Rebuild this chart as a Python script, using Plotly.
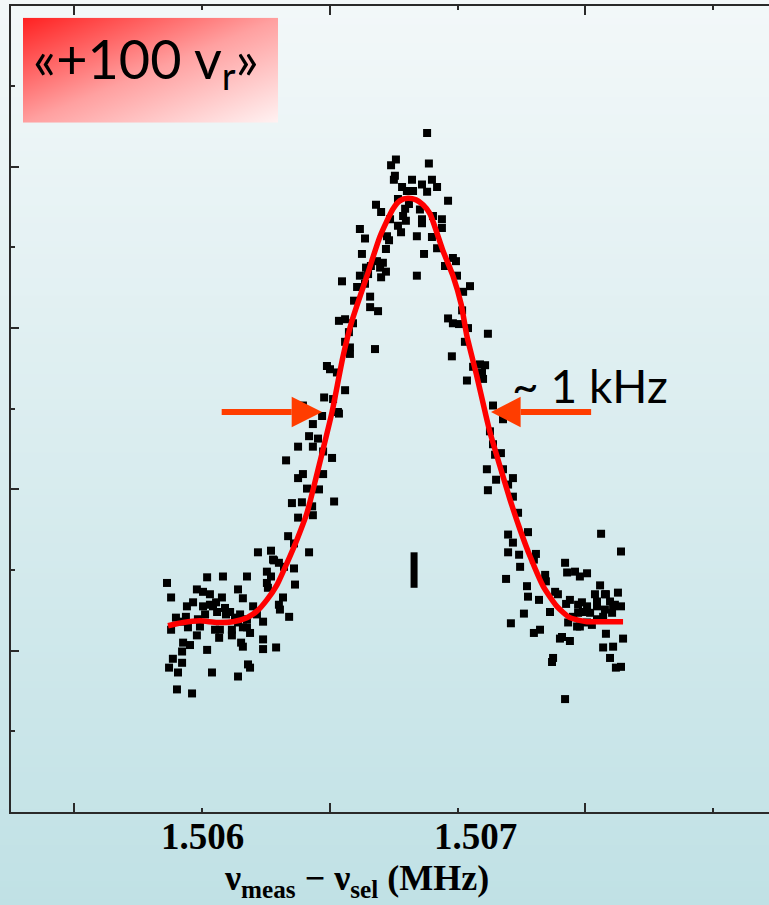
import numpy as np
import plotly.graph_objects as go

# ---------------------------------------------------------------
# Measured resonance: (frequency in Hz, signal in arb. units)
# ---------------------------------------------------------------
peak_pts = [(1506881, 8.42), (1506759, 8.09), (1506740, 8.02), (1506888, 8.04), (1506755, 7.89),
            (1506751, 7.84), (1506822, 7.84), (1506900, 7.84), (1506920, 7.75), (1506861, 7.78),
            (1506881, 7.69), (1506783, 7.75), (1506802, 7.70), (1506826, 7.70), (1506963, 7.58),
            (1506681, 7.53), (1506701, 7.44), (1506795, 7.48), (1506787, 7.39), (1506798, 7.33),
            (1506853, 7.47), (1506861, 7.35), (1506861, 7.30), (1506904, 7.39), (1506939, 7.35),
            (1506939, 7.24), (1506736, 7.35), (1506767, 7.27), (1506779, 7.19), (1506618, 7.23),
            (1506638, 7.11), (1506724, 7.14), (1506732, 7.09), (1506720, 6.98), (1506841, 7.14),
            (1506900, 7.13), (1506920, 6.99), (1506626, 6.92), (1506869, 6.92), (1506982, 6.87),
            (1506994, 6.83), (1506951, 6.77), (1506685, 6.83), (1506708, 6.81), (1506697, 6.75),
            (1506720, 6.70), (1506701, 6.63), (1506661, 6.77), (1506642, 6.75), (1506650, 6.67),
            (1506618, 6.65), (1506638, 6.55), (1506548, 6.58), (1506841, 6.65), (1506998, 6.65),
            (1507049, 6.52), (1507022, 6.45), (1506767, 7.60), (1506810, 7.54)]

left_flank_pts = [(1506658, 6.39), (1506658, 6.26), (1506689, 6.21), (1506595, 6.34), (1506536, 6.09),
                  (1506560, 6.11), (1506591, 6.06), (1506575, 5.95), (1506579, 5.76), (1506579, 5.68),
                  (1506677, 5.74), (1506560, 5.83), (1506489, 5.53), (1506501, 5.49), (1506528, 5.45),
                  (1506560, 5.23), (1506478, 5.14), (1506532, 4.96), (1506395, 5.04), (1506607, 6.51),
                  (1506513, 5.12), (1506536, 4.94), (1506470, 4.91), (1506434, 4.81), (1506419, 4.66),
                  (1506376, 4.53), (1506434, 4.53), (1506474, 4.47), (1506509, 4.39), (1506454, 4.63),
                  (1506329, 4.36), (1506395, 4.19), (1506376, 4.14), (1506474, 4.19), (1506411, 4.01),
                  (1506458, 4.00), (1506517, 3.85), (1506352, 3.83), (1506391, 3.84), (1506431, 3.79),
                  (1506376, 3.65), (1506434, 3.68), (1506337, 3.42), (1506360, 3.33), (1506419, 3.22)]

left_wing_pts = [(1505863, 2.84), (1505879, 2.66), (1505898, 2.41), (1505879, 2.26), (1505926, 2.10),
                 (1505953, 2.07), (1505922, 1.99), (1505886, 1.90), (1505922, 1.85), (1505871, 1.79),
                 (1505906, 1.73), (1505902, 1.52), (1505961, 1.47), (1505941, 2.55), (1505965, 2.60),
                 (1505937, 2.42), (1505980, 2.76), (1506004, 2.73), (1506020, 2.91), (1506031, 2.70),
                 (1506004, 2.55), (1506043, 2.55), (1506059, 2.48), (1506082, 2.92), (1506078, 2.66),
                 (1506090, 2.53), (1506110, 2.48), (1506051, 2.26), (1506070, 2.26), (1506067, 2.16),
                 (1505980, 2.19), (1505992, 2.30), (1506020, 2.01), (1506039, 1.73), (1506117, 2.26),
                 (1506117, 2.19), (1506141, 2.76), (1506160, 2.65), (1506141, 2.35), (1506160, 2.29),
                 (1506153, 2.10), (1506160, 2.05), (1506141, 1.68), (1506176, 2.92), (1506180, 1.83),
                 (1506188, 1.79), (1506188, 2.22), (1506176, 2.29), (1506200, 2.55), (1506215, 2.45),
                 (1506219, 3.22), (1506239, 2.36), (1506239, 2.14), (1506239, 2.02), (1506290, 2.04),
                 (1506270, 3.24), (1506254, 2.98), (1506278, 3.13), (1506254, 2.84), (1506301, 3.09),
                 (1506301, 2.57), (1506317, 2.66), (1506305, 2.51), (1506341, 2.42), (1506360, 3.02),
                 (1506364, 2.82), (1506270, 2.92), (1506258, 2.78), (1506321, 3.04), (1506282, 3.12),
                 (1506031, 2.57), (1506055, 2.60), (1506094, 2.45), (1506129, 2.41), (1506012, 2.45),
                 (1505984, 2.39), (1505945, 2.29), (1506149, 2.45), (1506176, 2.39), (1505914, 2.36)]

right_flank_pts = [(1507018, 6.22), (1506963, 6.12), (1506982, 6.06), (1507006, 6.05), (1507041, 6.00),
                   (1507119, 5.93), (1507029, 5.83), (1506978, 5.65), (1507088, 5.55), (1507108, 5.54),
                   (1507061, 5.52), (1507096, 5.45), (1507037, 5.35), (1507100, 5.37), (1507139, 5.04),
                   (1507178, 4.87), (1507127, 4.72), (1507139, 4.56), (1507170, 4.45), (1507147, 4.43),
                   (1507115, 4.25), (1507178, 4.25), (1507151, 4.12), (1507217, 4.14), (1507198, 4.06),
                   (1507119, 3.99), (1507217, 3.91), (1507237, 3.71)]

right_wing_pts = [(1507562, 3.45), (1507276, 3.47), (1507198, 3.44), (1507217, 3.34), (1507640, 3.23),
                  (1507198, 3.22), (1507241, 3.19), (1507307, 3.20), (1507299, 3.13), (1507245, 3.04),
                  (1507421, 3.09), (1507429, 2.97), (1507460, 2.98), (1507479, 2.92), (1507507, 2.96),
                  (1507190, 2.89), (1507343, 2.94), (1507346, 2.86), (1507272, 2.80), (1507276, 2.67),
                  (1507319, 2.63), (1507382, 2.73), (1507393, 2.70), (1507558, 2.81), (1507577, 2.70),
                  (1507628, 2.72), (1507597, 2.61), (1507616, 2.57), (1507640, 2.55), (1507440, 2.63),
                  (1507487, 2.60), (1507472, 2.57), (1507507, 2.55), (1507546, 2.61), (1507546, 2.55),
                  (1507472, 2.47), (1507519, 2.47), (1507546, 2.39), (1507507, 2.35), (1507468, 2.30),
                  (1507433, 2.35), (1507577, 2.51), (1507605, 2.47), (1507425, 2.58), (1507362, 2.48),
                  (1507260, 2.46), (1507209, 2.34), (1507323, 2.26), (1507299, 2.22), (1507409, 2.17),
                  (1507440, 2.12), (1507401, 2.15), (1507581, 2.21), (1507648, 2.15), (1507570, 2.04),
                  (1507609, 2.05), (1507597, 1.91), (1507374, 1.91), (1507370, 1.86), (1507640, 1.80),
                  (1507620, 1.79), (1507421, 1.40), (1507452, 2.42), (1507491, 2.48), (1507570, 2.42),
                  (1507609, 2.55), (1507479, 2.30), (1507526, 2.32), (1507538, 2.70), (1507581, 2.70)]

# Fitted line shape, sampled along the resonance
fit_freq_hz = [1505867, 1505926, 1505992, 1506059, 1506121, 1506176, 1506215, 1506254, 1506294,
               1506333, 1506372, 1506411, 1506442, 1506474, 1506509, 1506552, 1506587, 1506646,
               1506697, 1506748, 1506775, 1506806, 1506838, 1506865, 1506892, 1506943, 1506982,
               1507014, 1507037, 1507076, 1507108, 1507127, 1507166, 1507205, 1507245, 1507284,
               1507335, 1507389, 1507440, 1507507, 1507577, 1507648]
fit_signal = [2.31, 2.35, 2.37, 2.35, 2.36, 2.41, 2.49, 2.63, 2.82,
              3.09, 3.38, 3.71, 4.09, 4.50, 4.96, 5.65, 6.09, 6.65,
              7.14, 7.48, 7.58, 7.61, 7.59, 7.53, 7.42, 6.96, 6.65,
              6.30, 5.90, 5.40, 4.96, 4.71, 4.29, 3.88, 3.50, 3.17,
              2.80, 2.55, 2.41, 2.36, 2.36, 2.36]

# Labelled frequencies on the horizontal axis (MHz)
tick_labels = ["1.506", "1.507"]
tick_values = [1.506, 1.507]

# Width markers (Hz): tail, arrow-head base, tip
arrow_left_hz = (1506077, 1506351, 1506470)
arrow_right_hz = (1507523, 1507247, 1507131)
# Typical error bar: frequency (Hz), low, high
err_bar = (1506830, 2.78, 3.22)

W, H = 769, 905
AX = "#2a2a2a"
ARROW = "#ff3d00"

groups = [peak_pts, left_flank_pts, left_wing_pts, right_flank_pts, right_wing_pts]
pts = [p for g in groups for p in g]
x_mhz = np.array([p[0] for p in pts]) / 1e6
y_sig = np.array([p[1] for p in pts])

fig = go.Figure()

# data points
fig.add_trace(go.Scatter(
    x=x_mhz, y=y_sig, mode="markers",
    marker=dict(symbol="square", size=8, color="black", line=dict(width=0)),
    hoverinfo="skip"))

# fit
fig.add_trace(go.Scatter(
    x=np.array(fit_freq_hz) / 1e6, y=fit_signal, mode="lines",
    line=dict(color="#ff0000", width=5.5, shape="spline", smoothing=0.6),
    hoverinfo="skip"))

# gradient panel behind the label (second subplot)
fig.add_trace(go.Heatmap(
    z=[[1, 2], [0, 1]], x=[0, 1], y=[0, 1], zsmooth="best", showscale=False,
    colorscale=[[0, "rgb(255,34,34)"], [0.5, "rgb(255,160,160)"], [1, "rgb(255,243,243)"]],
    hoverinfo="skip", xaxis="x2", yaxis="y2"))

shapes = []
# vertical background gradient
N = 150
top_c = np.array([243, 248, 249])
bot_c = np.array([192, 225, 229])
for i in range(N):
    c = top_c + (bot_c - top_c) * (i + 0.5) / N
    shapes.append(dict(type="rect", xref="paper", yref="paper", x0=0, x1=1,
                       y0=1 - (i + 1) / N - 0.002, y1=1 - i / N,
                       fillcolor="rgb(%d,%d,%d)" % tuple(np.round(c)),
                       line=dict(width=0), layer="below"))

# width arrows at half maximum
y_half = (min(fit_signal) + max(fit_signal)) / 2
head_h = 0.19
for tail, base, tip in (arrow_left_hz, arrow_right_hz):
    shapes.append(dict(type="line", xref="x", yref="y", x0=tail / 1e6, x1=base / 1e6,
                       y0=y_half, y1=y_half, line=dict(color=ARROW, width=6)))
    shapes.append(dict(type="path", xref="x", yref="y",
                       path="M %.7f,%.3f L %.7f,%.3f L %.7f,%.3f Z" % (
                           base / 1e6, y_half + head_h, tip / 1e6, y_half,
                           base / 1e6, y_half - head_h),
                       fillcolor=ARROW, line=dict(width=0)))

# error bar
shapes.append(dict(type="line", xref="x", yref="y", x0=err_bar[0] / 1e6, x1=err_bar[0] / 1e6,
                   y0=err_bar[1], y1=err_bar[2], line=dict(color="black", width=7)))

annotations = [
    dict(text="«+100 v<sub>r</sub>»", xref="paper", yref="paper", x=146 / W, y=1 - 62 / H,
         showarrow=False, xanchor="center", yanchor="middle",
         font=dict(family="Lato", size=54, color="black")),
    dict(text="~ 1 kHz", xref="paper", yref="paper", x=590 / W, y=1 - 385 / H,
         showarrow=False, xanchor="center", yanchor="middle",
         font=dict(family="Lato", size=46, color="black")),
    dict(text="<b>ν<sub>meas</sub> − ν<sub>sel</sub> (MHz)</b>", xref="paper", yref="paper",
         x=356 / W, y=1 - 880 / H, showarrow=False, xanchor="center", yanchor="middle",
         font=dict(family="Liberation Serif", size=36, color="black")),
]
for i, (val, lab) in enumerate(zip(tick_values, tick_labels)):
    annotations.append(dict(text="<b>%s</b>" % lab, xref="x", yref="paper", x=val, y=1 - 836 / H,
                            xshift=0 if i == 0 else 18,
                            showarrow=False, xanchor="center", yanchor="middle",
                            font=dict(family="Liberation Serif", size=37, color="black")))

axis_common = dict(showline=True, linecolor=AX, linewidth=2, ticks="inside",
                   tickcolor=AX, tickwidth=1.5, showgrid=False, zeroline=False,
                   showticklabels=False, fixedrange=True)

fig.update_layout(
    width=W, height=H, margin=dict(l=0, r=0, t=0, b=0),
    paper_bgcolor="rgb(192,225,229)", plot_bgcolor="rgba(0,0,0,0)",
    showlegend=False,
    xaxis=dict(domain=[11 / W, 1], range=[1.5052524, 1.5082192], mirror="ticks",
               tick0=1.5055, dtick=0.001, ticklen=9,
               minor=dict(ticks="inside", tick0=1.5055, dtick=0.0005, ticklen=4,
                          tickwidth=1.5, tickcolor=AX),
               **axis_common),
    yaxis=dict(domain=[93 / H, 899.5 / H], range=[0, 10], tick0=0, dtick=2, ticklen=8,
               minor=dict(ticks="inside", tick0=0, dtick=1, ticklen=4,
                          tickwidth=1.5, tickcolor=AX),
               **axis_common),
    xaxis2=dict(domain=[23 / W, 278 / W], range=[0, 1], visible=False, anchor="y2",
                fixedrange=True),
    yaxis2=dict(domain=[1 - 122.7 / H, 1 - 17.7 / H], range=[0, 1], visible=False,
                anchor="x2", fixedrange=True),
    shapes=shapes,
    annotations=annotations,
)

fig.write_html("out.html", config={"displayModeBar": False})
